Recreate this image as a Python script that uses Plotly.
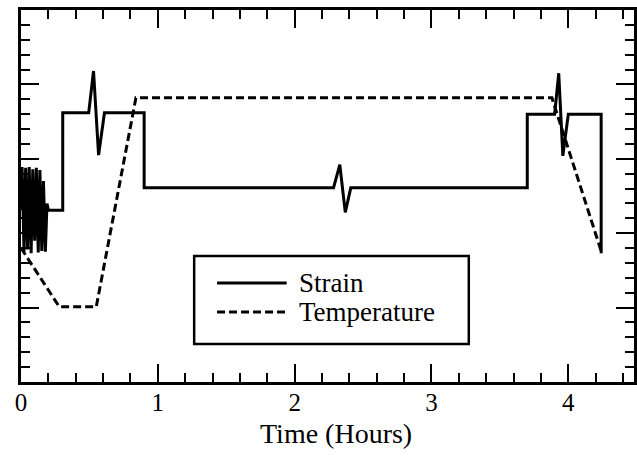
import plotly.graph_objects as go

# Strain record (hours, arbitrary strain units)
strain_time = [0.0, 0.008, 0.022, 0.034, 0.048, 0.060, 0.074, 0.086, 0.100,
               0.112, 0.126, 0.138, 0.152, 0.164, 0.178, 0.190, 0.200,
               0.305, 0.305, 0.495, 0.530, 0.567, 0.610, 0.900, 0.900,
               2.284, 2.330, 2.370, 2.410, 3.700, 3.700, 3.900, 3.930,
               3.960, 4.000, 4.240, 4.240]
strain_value = [2.31, 2.89, 1.75, 2.88, 1.78, 2.89, 1.73, 2.86, 1.90,
                2.88, 1.74, 2.85, 1.76, 2.70, 1.75, 2.40, 2.31,
                2.31, 3.62, 3.62, 4.18, 3.05, 3.62, 3.62, 2.61,
                2.61, 2.92, 2.28, 2.61, 2.61, 3.60, 3.60, 4.15,
                3.04, 3.60, 3.60, 1.73]

# Temperature record (hours, arbitrary temperature units)
temp_time = [0.0, 0.28, 0.55, 0.84, 3.88, 4.24]
temp_value = [1.80, 1.01, 1.01, 3.82, 3.82, 1.76]

x_ticks = [0, 1, 2, 3, 4]
x_tick_text = ["0", "1", "2", "3", "4"]
x_title = "Time (Hours)"

series_names = ["Strain", "Temperature"]

serif = "Liberation Serif, Times New Roman, serif"
strain_line = dict(color="black", width=3)
temp_line = dict(color="black", width=3, dash="8px,4px")

fig = go.Figure()
fig.add_trace(go.Scatter(x=strain_time, y=strain_value, mode="lines",
                         name=series_names[0], line=strain_line))
fig.add_trace(go.Scatter(x=temp_time, y=temp_value, mode="lines",
                         name=series_names[1], line=temp_line))

axis_common = dict(
    showline=True, linecolor="black", linewidth=2.5, mirror="ticks",
    ticks="inside", ticklen=18, tickwidth=2, tickcolor="black",
    showgrid=False, zeroline=False,
)
minor_ticks = dict(dtick=0.2, ticks="inside", ticklen=9, tickwidth=2,
                   tickcolor="black", showgrid=False)

fig.update_xaxes(
    **axis_common,
    range=[0, 4.48],
    tickvals=x_ticks, ticktext=x_tick_text,
    tickfont=dict(family=serif, size=25, color="black"),
    ticklabelstandoff=-4,
    minor=minor_ticks,
)
fig.update_yaxes(
    **axis_common,
    range=[0, 5], dtick=1, showticklabels=False,
    minor=minor_ticks,
)

# Key box with a line sample and label for each series (paper coordinates)
key_box = dict(x0=0.2825, x1=0.7305, y0=0.1022, y1=0.3387)
key_rows_y = [0.2661, 0.1882]
key_sample_x = (0.3198, 0.4334)
key_text_x = 0.4497

shapes = [dict(type="rect", xref="paper", yref="paper", **key_box,
               line=dict(color="black", width=2.5), fillcolor="white", layer="above")]
annotations = []
for name, row_y, style in zip(series_names, key_rows_y, [strain_line, temp_line]):
    shapes.append(dict(type="line", xref="paper", yref="paper",
                       x0=key_sample_x[0], x1=key_sample_x[1], y0=row_y, y1=row_y,
                       line=style, layer="above"))
    annotations.append(dict(text=name, xref="paper", yref="paper",
                            x=key_text_x, y=row_y, xanchor="left", yanchor="middle",
                            showarrow=False,
                            font=dict(family=serif, size=27, color="black")))

# Horizontal axis title
annotations.append(dict(text=x_title, xref="paper", yref="paper",
                        x=0.5146, y=-0.1371, xanchor="center", yanchor="middle",
                        showarrow=False,
                        font=dict(family=serif, size=28, color="black")))

fig.update_layout(
    width=637, height=456,
    margin=dict(l=21, r=0, t=10, b=74),
    paper_bgcolor="white", plot_bgcolor="white",
    showlegend=False,
    shapes=shapes, annotations=annotations,
)

fig.write_html("out.html")
